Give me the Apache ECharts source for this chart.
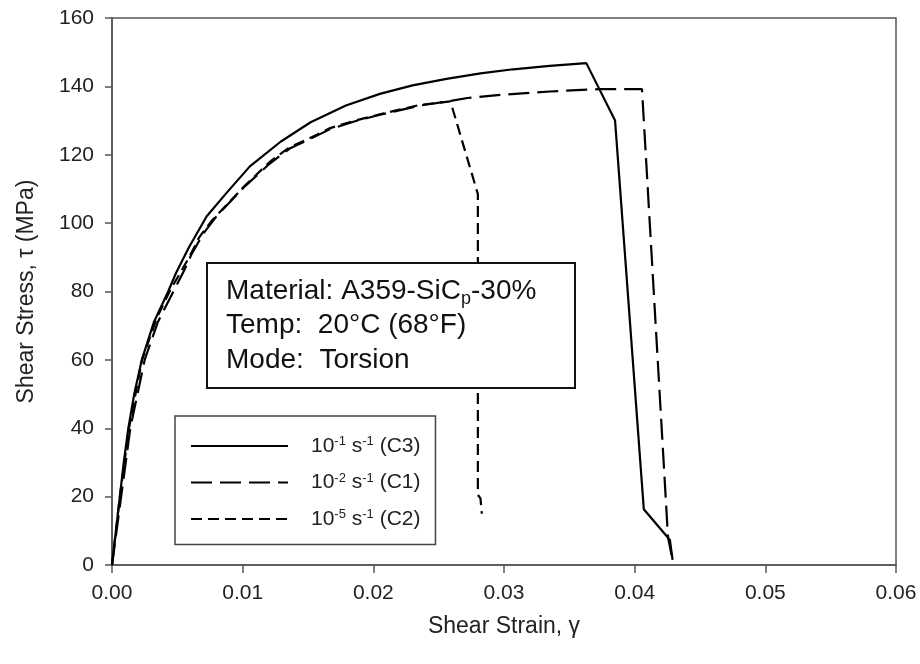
<!DOCTYPE html>
<html>
<head>
<meta charset="utf-8">
<script src="https://cdn.jsdelivr.net/npm/echarts@6/dist/echarts.min.js"></script>
<style>
html,body{margin:0;padding:0;background:#fff;}
#chart{width:920px;height:664px;}
</style>
</head>
<body>
<div id="chart"></div>
<script>
// ---- data ----
var xTicks = [0, 0.01, 0.02, 0.03, 0.04, 0.05, 0.06];
var yTicks = [0, 20, 40, 60, 80, 100, 120, 140, 160];

var seriesNames = ['C3', 'C1', 'C2'];
var rateExponents = ['-1', '-2', '-5'];

// 10^-1 s^-1 (C3) - solid
var c3Strain = [0, 0.0003, 0.0006, 0.0009, 0.00125, 0.0017, 0.00228, 0.0032, 0.0043, 0.0049, 0.0059, 0.00725, 0.0088, 0.01055, 0.0129, 0.0152, 0.0179, 0.0205, 0.0230, 0.0256, 0.0282, 0.0307, 0.0335, 0.0363, 0.0385, 0.0407, 0.0427, 0.0429];
var c3Stress = [0, 10, 20, 30, 40, 50, 60, 71, 80, 85.4, 93, 102, 109, 116.6, 123.8, 129.5, 134.4, 137.8, 140.3, 142.2, 143.8, 145, 146, 146.8, 130, 16.3, 7.3, 1.5];

// 10^-2 s^-1 (C1) - long dash
var c1Strain = [0, 0.0007, 0.0014, 0.0025, 0.0035, 0.0047, 0.0055, 0.0061, 0.0070, 0.0080, 0.0101, 0.0121, 0.0136, 0.0151, 0.0167, 0.0186, 0.0205, 0.0236, 0.0257, 0.0272, 0.0297, 0.0335, 0.0373, 0.04056, 0.04255, 0.0429];
var c1Stress = [0, 20, 40, 60, 71, 80, 86, 91, 97, 102, 110.5, 117.5, 121.8, 124.5, 127.5, 129.8, 131.7, 134.4, 135.6, 136.6, 137.5, 138.5, 139.2, 139.2, 8.2, 1.5];

// 10^-5 s^-1 (C2) - short dash
var c2Strain = [0, 0.0006, 0.0013, 0.0023, 0.0034, 0.0044, 0.0053, 0.0059, 0.0067, 0.0077, 0.0101, 0.0121, 0.0136, 0.0150, 0.0167, 0.0186, 0.0205, 0.0220, 0.0236, 0.0259, 0.0280, 0.0280, 0.0282, 0.0283];
var c2Stress = [0, 20, 40, 60, 72, 80, 86, 90, 96, 101, 110.7, 118, 122.2, 124.6, 127.8, 130, 131.8, 133.2, 134.6, 135.6, 108.5, 20.5, 19.5, 15];

var infoLines = ['Material: A359-SiC', 'p', '-30%', 'Temp:  20\u00B0C (68\u00B0F)', 'Mode:  Torsion'];

// ---- chart ----
function pairs(xs, ys) { return xs.map(function (x, i) { return [x, ys[i]]; }); }

var FONT = '"Liberation Sans", Arial, Helvetica, sans-serif';
var chart = echarts.init(document.getElementById('chart'), null, {renderer: 'canvas'});

var option = {
  backgroundColor: '#fff',
  animation: false,
  grid: {
    left: 112, right: 24, top: 18, bottom: 99,
    show: true, borderColor: '#555', borderWidth: 1.5, backgroundColor: 'transparent'
  },
  xAxis: {
    type: 'value',
    min: xTicks[0], max: xTicks[xTicks.length - 1], interval: 0.01,
    name: 'Shear Strain, \u03B3',
    nameLocation: 'middle', nameGap: 50,
    nameTextStyle: {fontFamily: FONT, fontSize: 23, color: '#222'},
    axisLine: {show: true, lineStyle: {color: '#555', width: 1.5}},
    axisTick: {show: true, length: 8, lineStyle: {color: '#555', width: 1.5}},
    axisLabel: {
      margin: 18, fontFamily: FONT, fontSize: 21, color: '#222',
      formatter: function (v) { return v.toFixed(2); }
    },
    splitLine: {show: false}
  },
  yAxis: {
    type: 'value',
    min: yTicks[0], max: yTicks[yTicks.length - 1], interval: 20,
    name: 'Shear Stress, \u03C4 (MPa)',
    nameLocation: 'middle', nameGap: 74, nameRotate: 90,
    nameTextStyle: {fontFamily: FONT, fontSize: 23, color: '#222'},
    axisLine: {show: true, lineStyle: {color: '#555', width: 1.5}},
    axisTick: {show: true, length: 7, lineStyle: {color: '#555', width: 1.5}},
    axisLabel: {margin: 18, fontFamily: FONT, fontSize: 21, color: '#222'},
    splitLine: {show: false}
  },
  legend: {
    show: true,
    orient: 'vertical',
    left: 175, top: 416,
    padding: [19, 15, 15, 15],
    itemWidth: 97, itemHeight: 16, itemGap: 15,
    borderColor: '#444', borderWidth: 1.5,
    backgroundColor: '#fff',
    selectedMode: false,
    itemStyle: {opacity: 0},
    data: seriesNames,
    formatter: function (name) {
      var e = rateExponents[seriesNames.indexOf(name)];
      return '{f|10}{s|' + e + '}{t| s}{s|-1}{t| (' + name + ')}';
    },
    textStyle: {
      fontFamily: FONT, fontSize: 21, color: '#222',
      rich: {
        f: {fontFamily: FONT, fontSize: 21, color: '#222', lineHeight: 22, padding: [0, 0, 0, 18]},
        t: {fontFamily: FONT, fontSize: 21, color: '#222', lineHeight: 22},
        s: {fontFamily: FONT, fontSize: 13, color: '#222', lineHeight: 12, verticalAlign: 'top'}
      }
    }
  },
  series: [
    {
      name: seriesNames[0], type: 'line', symbol: 'none', z: 5,
      data: pairs(c3Strain, c3Stress),
      lineStyle: {color: '#000', width: 2.2, type: 'solid'},
      itemStyle: {color: '#000'}
    },
    {
      name: seriesNames[1], type: 'line', symbol: 'none', z: 4,
      data: pairs(c1Strain, c1Stress),
      lineStyle: {color: '#000', width: 2.2, type: [21, 8]},
      itemStyle: {color: '#000'}
    },
    {
      name: seriesNames[2], type: 'line', symbol: 'none', z: 3,
      data: pairs(c2Strain, c2Stress),
      lineStyle: {color: '#000', width: 2.2, type: [11, 6]},
      itemStyle: {color: '#000'}
    }
  ],
  graphic: [
    {
      type: 'rect', z: 100,
      shape: {x: 207, y: 263, width: 368, height: 125},
      style: {fill: '#fff', stroke: '#111', lineWidth: 2}
    },
    {
      type: 'text', z: 101,
      x: 226, y: 274,
      style: {
        text: '{m|' + infoLines[0] + '}{b|' + infoLines[1] + '}{m|' + infoLines[2] + '}\n{m|' + infoLines[3] + '}\n{m|' + infoLines[4] + '}',
        verticalAlign: 'top', align: 'left',
        font: '28px ' + FONT, fill: '#111',
        rich: {
          m: {fontFamily: FONT, fontSize: 28, fill: '#111', color: '#111', lineHeight: 34.5},
          b: {fontFamily: FONT, fontSize: 18, fill: '#111', color: '#111', lineHeight: 22, verticalAlign: 'bottom'}
        }
      }
    }
  ]
};
chart.setOption(option);
</script>
</body>
</html>
